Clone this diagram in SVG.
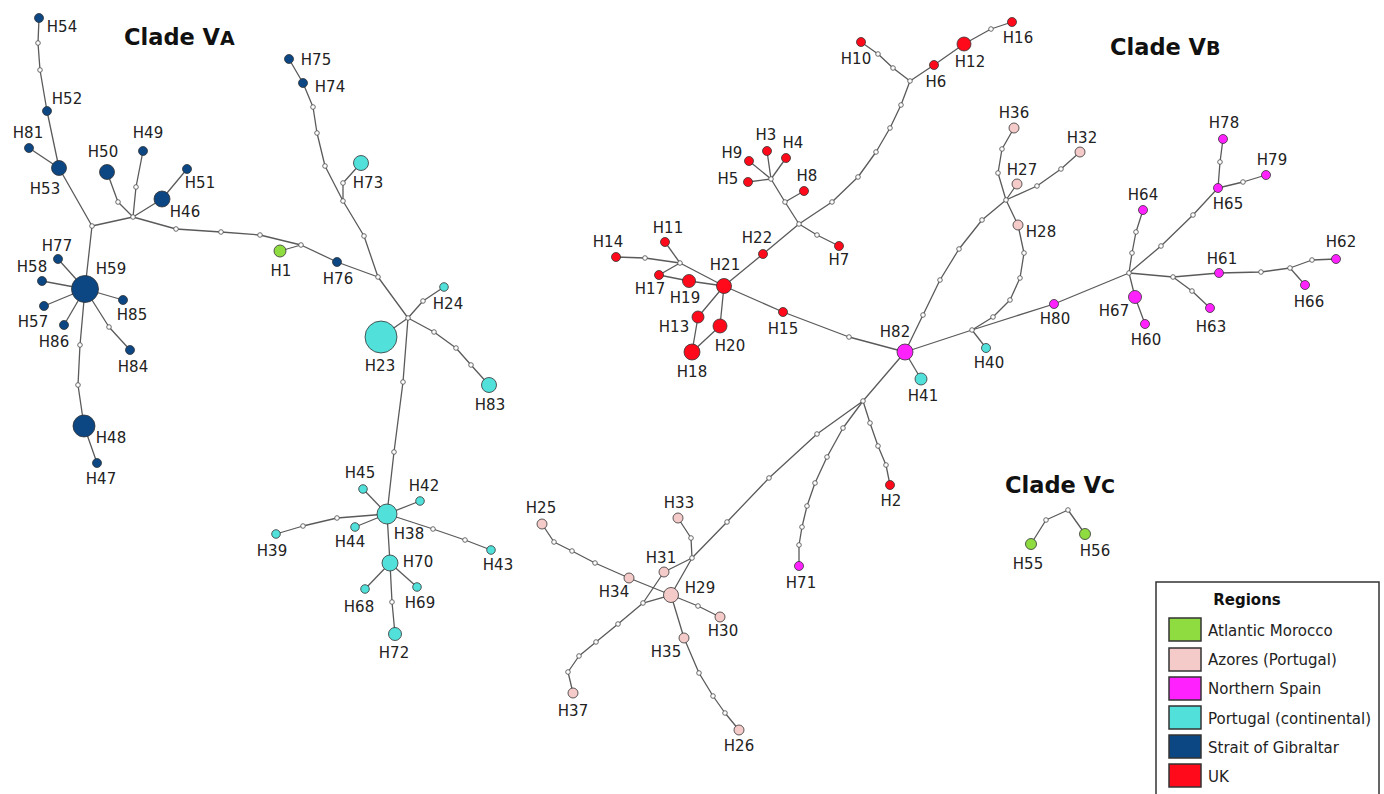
<svg xmlns="http://www.w3.org/2000/svg" width="1384" height="794" viewBox="0 0 1384 794">
<style>
.e{fill:none;stroke:#5a5a5a;stroke-width:1.3;stroke-linejoin:round}
.m{fill:#fff;stroke:#5a5a5a;stroke-width:0.9}
.n{stroke:#333;stroke-width:0.8}
.g{fill:#0c4784}.mo{fill:#8fdc41}.p{fill:#52e0da}.u{fill:#ff0a1a}.s{fill:#ff22ff}.a{fill:#f5cbca}
.l{font-family:"DejaVu Sans",Verdana,sans-serif;font-size:15px;fill:#222;text-anchor:middle}
.t{font-family:"DejaVu Sans",Verdana,sans-serif;font-size:22.5px;font-weight:bold;fill:#111}
.lg{font-family:"DejaVu Sans",Verdana,sans-serif;font-size:15px;fill:#222}
.sw{stroke:#333;stroke-width:1.5}
</style>
<rect width="1384" height="794" fill="#fff"/>
<g id="titles">
<text class="t" x="124" y="45">Clade V<tspan font-size="19">A</tspan></text>
<text class="t" x="1110" y="55">Clade V<tspan font-size="19">B</tspan></text>
<text class="t" x="1005" y="493">Clade V<tspan font-size="19">C</tspan></text>
</g>
<g id="connectors">
<polyline class="e" points="39,18 38,43 40,70 47,111 59,168 92,226 85,289"/>
<polyline class="e" points="29,148 59,168"/>
<polyline class="e" points="92,226 133,217"/>
<polyline class="e" points="133,217 118,202 107,172"/>
<polyline class="e" points="133,217 136,187 143,151"/>
<polyline class="e" points="133,217 162,199 187,169"/>
<polyline class="e" points="133,217 176,229 221,232 260,235 301,245 337,262 378,277"/>
<polyline class="e" points="301,245 280,251"/>
<polyline class="e" points="289,59 303,83 313,107 317,133 325,166 343,201 364,236 378,277 408,318"/>
<polyline class="e" points="343,201 343,183 361,163"/>
<polyline class="e" points="408,318 381,337"/>
<polyline class="e" points="408,318 423,301 444,287"/>
<polyline class="e" points="408,318 434,332 456,348 471,365 489,385"/>
<polyline class="e" points="408,318 403,382 394,452 387,514 390,563 392,602 395,634"/>
<polyline class="e" points="387,514 363,489"/>
<polyline class="e" points="387,514 420,501"/>
<polyline class="e" points="387,514 355,527"/>
<polyline class="e" points="387,514 337,518 303,526 276,534"/>
<polyline class="e" points="387,514 433,529 465,540 491,550"/>
<polyline class="e" points="390,563 365,589"/>
<polyline class="e" points="390,563 417,587"/>
<polyline class="e" points="85,289 58,259"/>
<polyline class="e" points="85,289 42,281"/>
<polyline class="e" points="85,289 44,306"/>
<polyline class="e" points="85,289 64,325"/>
<polyline class="e" points="85,289 123,300"/>
<polyline class="e" points="85,289 109,327 130,350"/>
<polyline class="e" points="85,289 80,345 78,385 84,426 97,463"/>
<polyline class="e" points="1012,22 991,29 964,44 934,65 910,81 901,105 890,128 876,152 858,177 832,202 799,224 763,254 724,286 783,312 849,337 905,352"/>
<polyline class="e" points="910,81 893,68 878,54 861,42"/>
<polyline class="e" points="799,224 817,235 839,246"/>
<polyline class="e" points="799,224 785,202 771,179"/>
<polyline class="e" points="785,202 804,191"/>
<polyline class="e" points="771,179 767,151"/>
<polyline class="e" points="771,179 786,158"/>
<polyline class="e" points="771,179 749,161"/>
<polyline class="e" points="771,179 748,182"/>
<polyline class="e" points="724,286 680,263 645,258 616,257"/>
<polyline class="e" points="680,263 665,242"/>
<polyline class="e" points="680,263 659,275 689,281 724,286"/>
<polyline class="e" points="724,286 698,317 692,352 720,326 724,286"/>
<polyline class="e" points="905,352 921,379"/>
<polyline class="e" points="905,352 923,315 940,280 959,249 982,220 1006,200 1017,184"/>
<polyline class="e" points="1006,200 998,173 1002,149 1014,128"/>
<polyline class="e" points="1006,200 1037,186 1061,169 1080,152"/>
<polyline class="e" points="1006,200 1018,225 1024,253 1020,278 1010,300 993,317 972,330"/>
<polyline class="e" points="905,352 972,330 1054,304 1129,273"/>
<polyline class="e" points="972,330 986,348"/>
<polyline class="e" points="1129,273 1132,253 1136,232 1143,210"/>
<polyline class="e" points="1129,273 1161,246 1193,215 1218,188 1220,162 1223,139"/>
<polyline class="e" points="1218,188 1243,182 1266,175"/>
<polyline class="e" points="1129,273 1135,297 1145,324"/>
<polyline class="e" points="1129,273 1173,277 1219,273 1261,272 1290,268 1312,260 1336,259"/>
<polyline class="e" points="1290,268 1305,285"/>
<polyline class="e" points="1173,277 1192,291 1210,308"/>
<polyline class="e" points="905,352 863,401 870,423 878,446 886,465 890,485"/>
<polyline class="e" points="863,401 843,428 827,457 815,483 807,506 802,527 799,545 799,566"/>
<polyline class="e" points="863,401 817,434 769,478 727,522 692,558 671,595"/>
<polyline class="e" points="692,558 691,538 678,518"/>
<polyline class="e" points="692,558 664,572 643,603 618,624 596,642 579,656 568,672 573,693"/>
<polyline class="e" points="643,603 671,595"/>
<polyline class="e" points="629,578 671,595"/>
<polyline class="e" points="629,578 595,563 572,551 554,542 542,524"/>
<polyline class="e" points="671,595 698,606 720,617"/>
<polyline class="e" points="671,595 684,638 699,673 713,696 725,713 739,730"/>
<polyline class="e" points="1031,544 1046,520 1068,510 1085,534"/>
</g>
<g id="median-vectors">
<circle class="m" r="2.3" cx="38" cy="43"/><circle class="m" r="2.3" cx="40" cy="70"/><circle class="m" r="2.3" cx="92" cy="226"/><circle class="m" r="2.3" cx="133" cy="217"/><circle class="m" r="2.3" cx="118" cy="202"/><circle class="m" r="2.3" cx="136" cy="187"/><circle class="m" r="2.3" cx="176" cy="229"/><circle class="m" r="2.3" cx="221" cy="232"/><circle class="m" r="2.3" cx="260" cy="235"/><circle class="m" r="2.3" cx="301" cy="245"/><circle class="m" r="2.3" cx="378" cy="277"/><circle class="m" r="2.3" cx="313" cy="107"/><circle class="m" r="2.3" cx="317" cy="133"/><circle class="m" r="2.3" cx="325" cy="166"/><circle class="m" r="2.3" cx="343" cy="201"/><circle class="m" r="2.3" cx="364" cy="236"/><circle class="m" r="2.3" cx="343" cy="183"/><circle class="m" r="2.3" cx="408" cy="318"/><circle class="m" r="2.3" cx="423" cy="301"/><circle class="m" r="2.3" cx="434" cy="332"/><circle class="m" r="2.3" cx="456" cy="348"/><circle class="m" r="2.3" cx="471" cy="365"/><circle class="m" r="2.3" cx="403" cy="382"/><circle class="m" r="2.3" cx="394" cy="452"/><circle class="m" r="2.3" cx="392" cy="602"/><circle class="m" r="2.3" cx="337" cy="518"/><circle class="m" r="2.3" cx="303" cy="526"/><circle class="m" r="2.3" cx="433" cy="529"/><circle class="m" r="2.3" cx="465" cy="540"/><circle class="m" r="2.3" cx="109" cy="327"/><circle class="m" r="2.3" cx="80" cy="345"/><circle class="m" r="2.3" cx="78" cy="385"/>
<circle class="m" r="2.3" cx="991" cy="29"/><circle class="m" r="2.3" cx="910" cy="81"/><circle class="m" r="2.3" cx="901" cy="105"/><circle class="m" r="2.3" cx="890" cy="128"/><circle class="m" r="2.3" cx="876" cy="152"/><circle class="m" r="2.3" cx="858" cy="177"/><circle class="m" r="2.3" cx="832" cy="202"/><circle class="m" r="2.3" cx="799" cy="224"/><circle class="m" r="2.3" cx="893" cy="68"/><circle class="m" r="2.3" cx="878" cy="54"/><circle class="m" r="2.3" cx="817" cy="235"/><circle class="m" r="2.3" cx="785" cy="202"/><circle class="m" r="2.3" cx="771" cy="179"/><circle class="m" r="2.3" cx="680" cy="263"/><circle class="m" r="2.3" cx="645" cy="258"/><circle class="m" r="2.3" cx="849" cy="337"/><circle class="m" r="2.3" cx="923" cy="315"/><circle class="m" r="2.3" cx="940" cy="280"/><circle class="m" r="2.3" cx="959" cy="249"/><circle class="m" r="2.3" cx="982" cy="220"/><circle class="m" r="2.3" cx="1006" cy="200"/><circle class="m" r="2.3" cx="998" cy="173"/><circle class="m" r="2.3" cx="1002" cy="149"/><circle class="m" r="2.3" cx="1037" cy="186"/><circle class="m" r="2.3" cx="1061" cy="169"/><circle class="m" r="2.3" cx="1024" cy="253"/><circle class="m" r="2.3" cx="1020" cy="278"/><circle class="m" r="2.3" cx="1010" cy="300"/><circle class="m" r="2.3" cx="993" cy="317"/><circle class="m" r="2.3" cx="972" cy="330"/><circle class="m" r="2.3" cx="1129" cy="273"/><circle class="m" r="2.3" cx="1132" cy="253"/><circle class="m" r="2.3" cx="1136" cy="232"/><circle class="m" r="2.3" cx="1161" cy="246"/><circle class="m" r="2.3" cx="1193" cy="215"/><circle class="m" r="2.3" cx="1220" cy="162"/><circle class="m" r="2.3" cx="1243" cy="182"/><circle class="m" r="2.3" cx="1173" cy="277"/><circle class="m" r="2.3" cx="1261" cy="272"/><circle class="m" r="2.3" cx="1290" cy="268"/><circle class="m" r="2.3" cx="1312" cy="260"/><circle class="m" r="2.3" cx="1192" cy="291"/><circle class="m" r="2.3" cx="863" cy="401"/><circle class="m" r="2.3" cx="870" cy="423"/><circle class="m" r="2.3" cx="878" cy="446"/><circle class="m" r="2.3" cx="886" cy="465"/><circle class="m" r="2.3" cx="843" cy="428"/><circle class="m" r="2.3" cx="827" cy="457"/><circle class="m" r="2.3" cx="815" cy="483"/><circle class="m" r="2.3" cx="807" cy="506"/><circle class="m" r="2.3" cx="802" cy="527"/><circle class="m" r="2.3" cx="799" cy="545"/><circle class="m" r="2.3" cx="817" cy="434"/><circle class="m" r="2.3" cx="769" cy="478"/><circle class="m" r="2.3" cx="727" cy="522"/><circle class="m" r="2.3" cx="692" cy="558"/><circle class="m" r="2.3" cx="691" cy="538"/><circle class="m" r="2.3" cx="643" cy="603"/><circle class="m" r="2.3" cx="618" cy="624"/><circle class="m" r="2.3" cx="596" cy="642"/><circle class="m" r="2.3" cx="579" cy="656"/><circle class="m" r="2.3" cx="568" cy="672"/><circle class="m" r="2.3" cx="595" cy="563"/><circle class="m" r="2.3" cx="572" cy="551"/><circle class="m" r="2.3" cx="554" cy="542"/><circle class="m" r="2.3" cx="698" cy="606"/><circle class="m" r="2.3" cx="699" cy="673"/><circle class="m" r="2.3" cx="713" cy="696"/><circle class="m" r="2.3" cx="725" cy="713"/><circle class="m" r="2.3" cx="1046" cy="520"/><circle class="m" r="2.3" cx="1068" cy="510"/>
</g>
<g id="H54"><circle class="n g" cx="39" cy="18" r="4.5"/><text class="l" x="62" y="32">H54</text></g>
<g id="H52"><circle class="n g" cx="47" cy="111" r="4.5"/><text class="l" x="67" y="104">H52</text></g>
<g id="H81"><circle class="n g" cx="29" cy="148" r="4.5"/><text class="l" x="28" y="138">H81</text></g>
<g id="H53"><circle class="n g" cx="59" cy="168" r="7.5"/><text class="l" x="45" y="194">H53</text></g>
<g id="H50"><circle class="n g" cx="107" cy="172" r="7.5"/><text class="l" x="103" y="157">H50</text></g>
<g id="H49"><circle class="n g" cx="143" cy="151" r="4.5"/><text class="l" x="148" y="138">H49</text></g>
<g id="H46"><circle class="n g" cx="162" cy="199" r="8"/><text class="l" x="185" y="217">H46</text></g>
<g id="H51"><circle class="n g" cx="187" cy="169" r="4.5"/><text class="l" x="200" y="188">H51</text></g>
<g id="H75"><circle class="n g" cx="289" cy="59" r="4.5"/><text class="l" x="316" y="65">H75</text></g>
<g id="H74"><circle class="n g" cx="303" cy="83" r="4.5"/><text class="l" x="330" y="92">H74</text></g>
<g id="H73"><circle class="n p" cx="361" cy="163" r="7.5"/><text class="l" x="368" y="188">H73</text></g>
<g id="H1"><circle class="n mo" cx="280" cy="251" r="6"/><text class="l" x="281" y="276">H1</text></g>
<g id="H76"><circle class="n g" cx="337" cy="262" r="4.5"/><text class="l" x="338" y="284">H76</text></g>
<g id="H77"><circle class="n g" cx="58" cy="259" r="4.5"/><text class="l" x="57" y="251">H77</text></g>
<g id="H58"><circle class="n g" cx="42" cy="281" r="4.5"/><text class="l" x="32" y="272">H58</text></g>
<g id="H59"><circle class="n g" cx="85" cy="289" r="13.5"/><text class="l" x="111" y="274">H59</text></g>
<g id="H57"><circle class="n g" cx="44" cy="306" r="4.5"/><text class="l" x="33" y="327">H57</text></g>
<g id="H86"><circle class="n g" cx="64" cy="325" r="4.5"/><text class="l" x="54" y="347">H86</text></g>
<g id="H85"><circle class="n g" cx="123" cy="300" r="4.5"/><text class="l" x="132" y="320">H85</text></g>
<g id="H84"><circle class="n g" cx="130" cy="350" r="4.5"/><text class="l" x="133" y="372">H84</text></g>
<g id="H48"><circle class="n g" cx="84" cy="426" r="11"/><text class="l" x="111" y="443">H48</text></g>
<g id="H47"><circle class="n g" cx="97" cy="463" r="4.5"/><text class="l" x="101" y="484">H47</text></g>
<g id="H24"><circle class="n p" cx="444" cy="287" r="4.3"/><text class="l" x="448" y="309">H24</text></g>
<g id="H23"><circle class="n p" cx="381" cy="337" r="16"/><text class="l" x="380" y="371">H23</text></g>
<g id="H83"><circle class="n p" cx="489" cy="385" r="7.5"/><text class="l" x="490" y="410">H83</text></g>
<g id="H38"><circle class="n p" cx="387" cy="514" r="10"/><text class="l" x="409" y="539">H38</text></g>
<g id="H45"><circle class="n p" cx="363" cy="489" r="4.3"/><text class="l" x="360" y="478">H45</text></g>
<g id="H42"><circle class="n p" cx="420" cy="501" r="4.3"/><text class="l" x="424" y="491">H42</text></g>
<g id="H44"><circle class="n p" cx="355" cy="527" r="4.3"/><text class="l" x="350" y="547">H44</text></g>
<g id="H39"><circle class="n p" cx="276" cy="534" r="4.3"/><text class="l" x="272" y="556">H39</text></g>
<g id="H43"><circle class="n p" cx="491" cy="550" r="4.3"/><text class="l" x="498" y="570">H43</text></g>
<g id="H70"><circle class="n p" cx="390" cy="563" r="8"/><text class="l" x="418" y="567">H70</text></g>
<g id="H68"><circle class="n p" cx="365" cy="589" r="4.3"/><text class="l" x="359" y="612">H68</text></g>
<g id="H69"><circle class="n p" cx="417" cy="587" r="4.3"/><text class="l" x="420" y="608">H69</text></g>
<g id="H72"><circle class="n p" cx="395" cy="634" r="6.5"/><text class="l" x="394" y="658">H72</text></g>
<g id="H10"><circle class="n u" cx="861" cy="42" r="4.5"/><text class="l" x="856" y="64">H10</text></g>
<g id="H6"><circle class="n u" cx="934" cy="65" r="4.5"/><text class="l" x="936" y="87">H6</text></g>
<g id="H12"><circle class="n u" cx="964" cy="44" r="7"/><text class="l" x="970" y="67">H12</text></g>
<g id="H16"><circle class="n u" cx="1012" cy="22" r="4.5"/><text class="l" x="1018" y="43">H16</text></g>
<g id="H3"><circle class="n u" cx="767" cy="151" r="4.5"/><text class="l" x="766" y="140">H3</text></g>
<g id="H4"><circle class="n u" cx="786" cy="158" r="4.5"/><text class="l" x="793" y="148">H4</text></g>
<g id="H9"><circle class="n u" cx="749" cy="161" r="4.5"/><text class="l" x="732" y="158">H9</text></g>
<g id="H5"><circle class="n u" cx="748" cy="182" r="4.5"/><text class="l" x="728" y="184">H5</text></g>
<g id="H8"><circle class="n u" cx="804" cy="191" r="4.5"/><text class="l" x="807" y="181">H8</text></g>
<g id="H7"><circle class="n u" cx="839" cy="246" r="4.5"/><text class="l" x="839" y="265">H7</text></g>
<g id="H22"><circle class="n u" cx="763" cy="254" r="4.5"/><text class="l" x="757" y="243">H22</text></g>
<g id="H11"><circle class="n u" cx="665" cy="242" r="4.5"/><text class="l" x="668" y="233">H11</text></g>
<g id="H14"><circle class="n u" cx="616" cy="257" r="4.5"/><text class="l" x="608" y="247">H14</text></g>
<g id="H17"><circle class="n u" cx="659" cy="275" r="4.5"/><text class="l" x="650" y="294">H17</text></g>
<g id="H19"><circle class="n u" cx="689" cy="281" r="6.5"/><text class="l" x="685" y="303">H19</text></g>
<g id="H21"><circle class="n u" cx="724" cy="286" r="7.5"/><text class="l" x="725" y="270">H21</text></g>
<g id="H13"><circle class="n u" cx="698" cy="317" r="6"/><text class="l" x="674" y="332">H13</text></g>
<g id="H20"><circle class="n u" cx="720" cy="326" r="7"/><text class="l" x="730" y="351">H20</text></g>
<g id="H18"><circle class="n u" cx="692" cy="352" r="8"/><text class="l" x="692" y="377">H18</text></g>
<g id="H15"><circle class="n u" cx="783" cy="312" r="4.5"/><text class="l" x="783" y="334">H15</text></g>
<g id="H82"><circle class="n s" cx="905" cy="352" r="8"/><text class="l" x="895" y="337">H82</text></g>
<g id="H41"><circle class="n p" cx="921" cy="379" r="6"/><text class="l" x="923" y="401">H41</text></g>
<g id="H2"><circle class="n u" cx="890" cy="485" r="4.5"/><text class="l" x="891" y="506">H2</text></g>
<g id="H71"><circle class="n s" cx="799" cy="566" r="4.5"/><text class="l" x="801" y="588">H71</text></g>
<g id="H36"><circle class="n a" cx="1014" cy="128" r="5"/><text class="l" x="1014" y="118">H36</text></g>
<g id="H27"><circle class="n a" cx="1017" cy="184" r="5"/><text class="l" x="1022" y="175">H27</text></g>
<g id="H32"><circle class="n a" cx="1080" cy="152" r="5"/><text class="l" x="1082" y="143">H32</text></g>
<g id="H28"><circle class="n a" cx="1018" cy="225" r="5"/><text class="l" x="1041" y="237">H28</text></g>
<g id="H40"><circle class="n p" cx="986" cy="348" r="4.5"/><text class="l" x="989" y="368">H40</text></g>
<g id="H80"><circle class="n s" cx="1054" cy="304" r="4.5"/><text class="l" x="1055" y="324">H80</text></g>
<g id="H64"><circle class="n s" cx="1143" cy="210" r="4.5"/><text class="l" x="1143" y="200">H64</text></g>
<g id="H67"><circle class="n s" cx="1135" cy="297" r="6.5"/><text class="l" x="1114" y="316">H67</text></g>
<g id="H60"><circle class="n s" cx="1145" cy="324" r="4.5"/><text class="l" x="1146" y="345">H60</text></g>
<g id="H65"><circle class="n s" cx="1218" cy="188" r="4.5"/><text class="l" x="1228" y="209">H65</text></g>
<g id="H78"><circle class="n s" cx="1223" cy="139" r="4.5"/><text class="l" x="1224" y="128">H78</text></g>
<g id="H79"><circle class="n s" cx="1266" cy="175" r="4.5"/><text class="l" x="1272" y="165">H79</text></g>
<g id="H61"><circle class="n s" cx="1219" cy="273" r="4.5"/><text class="l" x="1222" y="264">H61</text></g>
<g id="H63"><circle class="n s" cx="1210" cy="308" r="4.5"/><text class="l" x="1211" y="332">H63</text></g>
<g id="H62"><circle class="n s" cx="1336" cy="259" r="4.5"/><text class="l" x="1341" y="247">H62</text></g>
<g id="H66"><circle class="n s" cx="1305" cy="285" r="4.5"/><text class="l" x="1309" y="307">H66</text></g>
<g id="H33"><circle class="n a" cx="678" cy="518" r="5"/><text class="l" x="679" y="508">H33</text></g>
<g id="H31"><circle class="n a" cx="664" cy="572" r="5"/><text class="l" x="661" y="563">H31</text></g>
<g id="H29"><circle class="n a" cx="671" cy="595" r="7.5"/><text class="l" x="700" y="593">H29</text></g>
<g id="H34"><circle class="n a" cx="629" cy="578" r="5"/><text class="l" x="614" y="597">H34</text></g>
<g id="H25"><circle class="n a" cx="542" cy="524" r="5"/><text class="l" x="541" y="513">H25</text></g>
<g id="H37"><circle class="n a" cx="573" cy="693" r="5"/><text class="l" x="573" y="716">H37</text></g>
<g id="H30"><circle class="n a" cx="720" cy="617" r="5"/><text class="l" x="723" y="636">H30</text></g>
<g id="H35"><circle class="n a" cx="684" cy="638" r="5"/><text class="l" x="666" y="657">H35</text></g>
<g id="H26"><circle class="n a" cx="739" cy="730" r="5"/><text class="l" x="739" y="751">H26</text></g>
<g id="H55"><circle class="n mo" cx="1031" cy="544" r="5.5"/><text class="l" x="1028" y="569">H55</text></g>
<g id="H56"><circle class="n mo" cx="1085" cy="534" r="5.5"/><text class="l" x="1095" y="556">H56</text></g>
<g id="legend">
<rect x="1156" y="582" width="223" height="220" fill="#fff" stroke="#333" stroke-width="1.5"/>
<text x="1247" y="605" font-family="DejaVu Sans,Verdana,sans-serif" font-size="15" font-weight="bold" fill="#111" text-anchor="middle">Regions</text>
<rect class="sw mo" x="1169" y="618" width="32" height="23"/><text class="lg" x="1208" y="636">Atlantic Morocco</text>
<rect class="sw a" x="1169" y="648" width="32" height="23"/><text class="lg" x="1208" y="665">Azores (Portugal)</text>
<rect class="sw s" x="1169" y="677" width="32" height="23"/><text class="lg" x="1208" y="694">Northern Spain</text>
<rect class="sw p" x="1169" y="706" width="32" height="23"/><text class="lg" x="1208" y="724">Portugal (continental)</text>
<rect class="sw g" x="1169" y="735" width="32" height="23"/><text class="lg" x="1208" y="753">Strait of Gibraltar</text>
<rect class="sw u" x="1169" y="764" width="32" height="23"/><text class="lg" x="1208" y="782">UK</text>
</g>
</svg>
